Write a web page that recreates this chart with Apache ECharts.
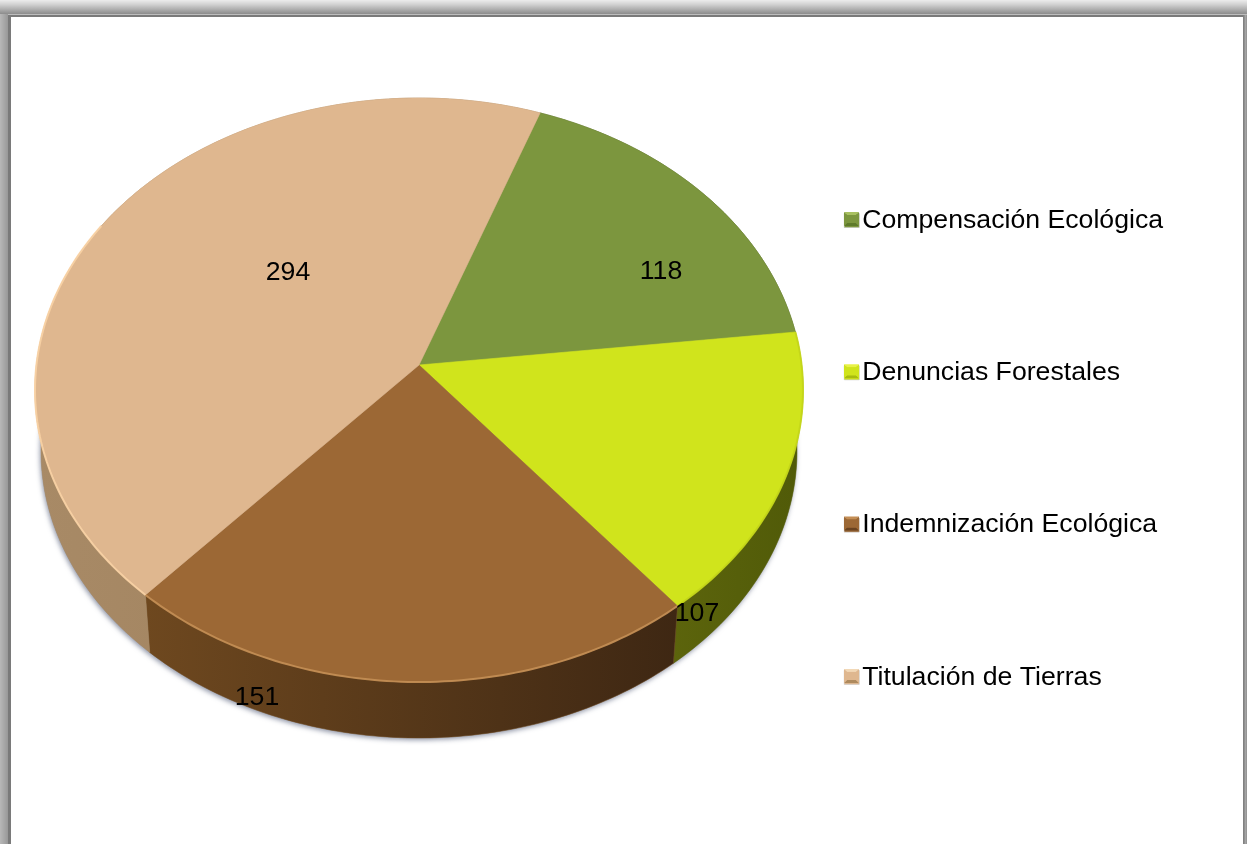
<!DOCTYPE html>
<html><head><meta charset="utf-8">
<style>html,body{margin:0;padding:0;background:#fff}#c{width:1247px;height:844px}</style>
<script src="https://cdn.jsdelivr.net/npm/echarts@6/dist/echarts.min.js"></script>
</head><body><div id="c"></div>
<script>
const categories = ['Compensación Ecológica','Denuncias Forestales','Indemnización Ecológica','Titulación de Tierras'];
const values = [118,107,151,294];
const topColors = ['#7C963E','#D0E41C','#9C6835','#DFB78F'];
const rimColors = ['#8CA64A','#C4D61A','#C48F55','#F9D3A5'];
const wallColors = [['#4A5A20','#4A5A20'],['#5C640C','#505A08'],['#6E481F','#3E2713'],['#A88A66','#9C7D5A']];
const bevelColors = [['#A8C060','#5E7A2A'],['#E8F248','#A8BC10'],['#C48E55','#6A4320'],['#F2D8B6','#AE8A5E']];
const labelPos = [[661,272],[697,614],[257,698],[288,273]];

const startAngle = 20, TOP = {cx:419, cy:390, rx:384, ry:292}, BOT = {cx:419, cy:451, rx:378, ry:287};
const tilt = -25/292;
const legendX = 844, legendY = 219, legendStep = 152.3;
const total = values.reduce((a,b)=>a+b,0);
function proj(deg){ // perspective map of the pie circle onto the unit disk
  const t = deg*Math.PI/180, x = Math.sin(t), y = -Math.cos(t), w = 1+tilt*y;
  return [x*Math.sqrt(1-tilt*tilt)/w, (y+tilt)/w];
}
const at = (e,p)=>[e.cx+e.rx*p[0], e.cy+e.ry*p[1]];
function arc(e,a,b){ const r=[]; const n=Math.max(4,Math.ceil(Math.abs(b-a)));
  for(let i=0;i<=n;i++) r.push(at(e,proj(a+(b-a)*i/n))); return r; }
function hGrad(c){ return {type:'linear',x:0,y:0,x2:1,y2:0,colorStops:[{offset:0,color:c[0]},{offset:1,color:c[1]}]}; }

const series = categories.map((name,i)=>{
  const before = values.slice(0,i).reduce((a,b)=>a+b,0);
  return {
    type:'custom', name, coordinateSystem:'none', silent:true,
    itemStyle:{color:topColors[i]},
    data:[[values[i]]],
    renderItem(params,api){
      const a = startAngle+before/total*360, b = a+api.value(0)/total*360;
      const topArc = arc(TOP,a,b), botArc = arc(BOT,a,b).reverse();
      const apex = [TOP.cx, TOP.cy+TOP.ry*tilt];
      const rim = arc(TOP,a,i===3?Math.min(b,300):b);
      const children = [
        {type:'polygon',z2:1,shape:{points:topArc.concat(botArc)},style:{fill:hGrad(wallColors[i]),stroke:wallColors[i][0],lineWidth:.5}},
        {type:'polygon',z2:2,shape:{points:[apex].concat(topArc)},style:{fill:topColors[i],stroke:topColors[i],lineWidth:.6}},
        {type:'text',z2:4,x:labelPos[i][0],y:labelPos[i][1],style:{text:String(api.value(0)),fill:'#000',font:'26.67px "Liberation Sans", Arial, sans-serif',align:'center',verticalAlign:'middle'}}
      ];
      if(i>=1) children.push({type:'polyline',z2:3,shape:{points:rim},style:{fill:null,stroke:rimColors[i],lineWidth:2,opacity:.9}});
      return {type:'group',children};
    }
  };
});

function frameGrad(horizontal,stops){ return {type:'linear',x:0,y:0,x2:horizontal?1:0,y2:horizontal?0:1,
  colorStops:stops.map((c,i)=>({offset:i/(stops.length-1),color:c}))}; }

// bevel on the legend swatches
const bevels = [];
categories.forEach((n,i)=>{
  const y=legendY+i*legendStep, x0=legendX, x1=x0+15, t=y-7, b=y+7, k=3;
  const tri=(pts,fill)=>bevels.push({type:'polygon',z:11,silent:true,shape:{points:pts},style:{fill}});
  tri([[x0,t],[x1,t],[x1-k,t+k],[x0+k,t+k]],bevelColors[i][0]);
  tri([[x0,b],[x1,b],[x1-k,b-k],[x0+k,b-k]],bevelColors[i][1]);
  tri([[x0,t],[x0+k,t+k],[x0+k,b-k],[x0,b]],topColors[i]);
  tri([[x1,t],[x1-k,t+k],[x1-k,b-k],[x1,b]],topColors[i]);
  bevels.push({type:'rect',z:11,silent:true,shape:{x:x0+k,y:t+k,width:15-2*k,height:14-2*k},style:{fill:topColors[i]}});
});

const chart = echarts.init(document.getElementById('c'),null,{renderer:'canvas'});
chart.setOption({
  animation:false,
  backgroundColor:'#fff',
  legend:{
    orient:'vertical',left:legendX,top:207,padding:0,itemGap:125.3,itemWidth:15,itemHeight:14,
    selectedMode:false,
    textStyle:{fontFamily:'"Liberation Sans", Arial, sans-serif',fontSize:26.67,color:'#000',padding:[0,0,0,-2]},
    data:categories.map((name,i)=>({name,icon:'rect',itemStyle:{color:topColors[i],borderColor:'#bbb',borderWidth:.5}}))
  },
  graphic:[
    {type:'ellipse',z:0,silent:true,shape:{cx:BOT.cx,cy:BOT.cy,rx:BOT.rx,ry:BOT.ry},style:{fill:'#8f8f8f',shadowBlur:5,shadowColor:'rgba(70,80,110,.6)',shadowOffsetY:2,shadowOffsetX:-1}},
    {type:'rect',z:10,silent:true,shape:{x:0,y:0,width:1247,height:14},style:{fill:frameGrad(false,['#ececec','#d0d0d0','#aeaeae','#8c8c8c'])}},
    {type:'rect',z:10,silent:true,shape:{x:0,y:14,width:1247,height:1},style:{fill:'#bdbdbd'}},
    {type:'rect',z:10,silent:true,shape:{x:0,y:15,width:1247,height:2},style:{fill:'#7a7a7a'}},
    {type:'rect',z:10,silent:true,shape:{x:0,y:14,width:8,height:830},style:{fill:frameGrad(true,['#b8b8b8','#a8a8a8','#989898'])}},
    {type:'rect',z:10,silent:true,shape:{x:8,y:15,width:3,height:829},style:{fill:'#7a7a7a'}},
    {type:'rect',z:10,silent:true,shape:{x:1243,y:15,width:4,height:829},style:{fill:frameGrad(true,['#7a7a7a','#8c8c8c','#a8a8a8','#8c8c8c'])}}
  ].concat(bevels),
  series
});
</script></body></html>
